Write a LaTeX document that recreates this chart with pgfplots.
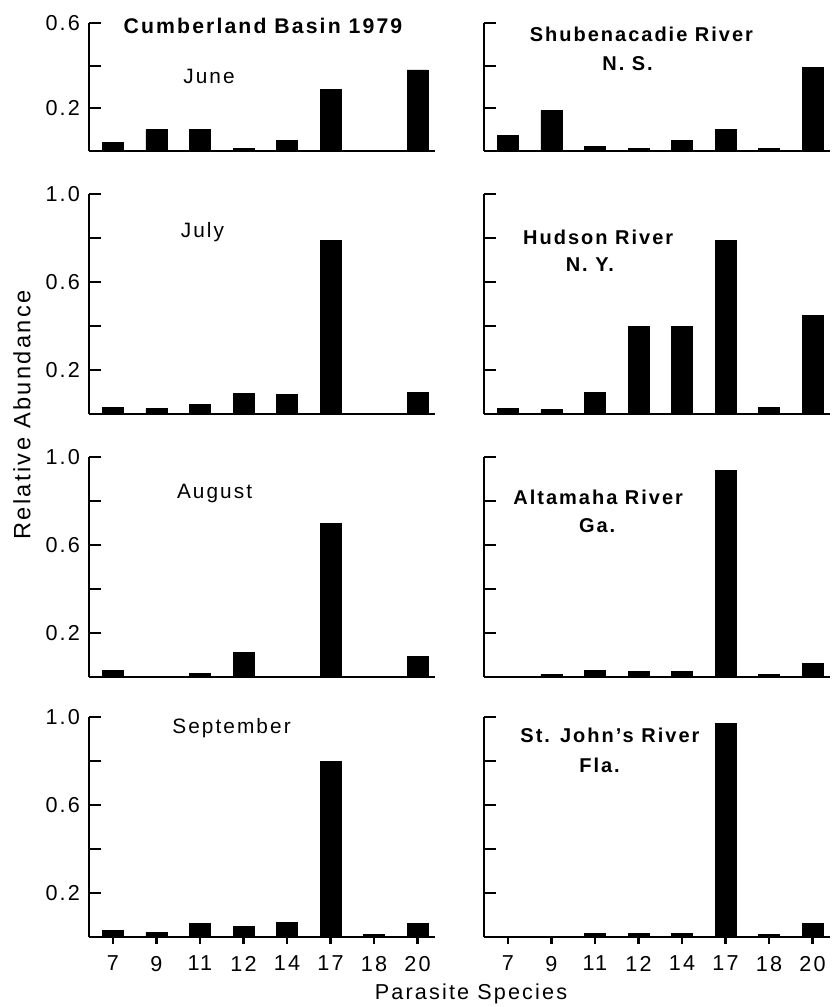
\documentclass[border=0pt]{standalone}
\usepackage{fontspec}
\setmainfont{Liberation Sans}[LetterSpace=10]
\usepackage{pgfplots}
\pgfplotsset{compat=1.18}
\newcommand\tickf{\fontsize{10.8}{12}\selectfont}
\newcommand\titf{\fontsize{10}{11}\selectfont\bfseries}
\newcommand\monf{\fontsize{10.4}{11}\selectfont}
\pgfplotsset{
  panel/.style={
    scale only axis, width=173pt, height=110pt,
    anchor=south west, clip=false,
    axis x line=bottom, axis y line=left,
    axis line style={line width=1.1pt,-},
    every tick/.style={line width=1.1pt, black},
    xmin=-0.55, xmax=7.4, ymin=0, ymax=1,
    ytick={0.2,0.4,0.6,0.8,1.0},
    yticklabels={0.2,,0.6,,1.0},
    ytick align=inside, xtick align=outside,
    major tick length=6pt,
    xtick=\empty,
    ybar, bar width=10.5pt,
    /pgf/number format/assume math mode=true,
    tick label style={font=\tickf},
    yticklabel style={xshift=-1pt},
  },
  toprow/.style={height=64pt, ymax=0.6, ytick={0.2,0.4,0.6}, yticklabels={0.2,,0.6}},
  rightcol/.style={yticklabels={}},
  bottomrow/.style={xtick={0,...,7}, xticklabels={7,9,11,12,14,17,18,20},
    xtick style={/pgfplots/major tick length=3.5pt}},
  bars/.style={fill=black, draw=black},
}
\begin{document}
\begin{tikzpicture}
\useasboundingbox (0,0) rectangle (417.5pt,-503.5pt);
% Row 1
\begin{axis}[panel, toprow, at={(44.5pt,-75.5pt)}]
\addplot[bars] coordinates {(0,0.04) (1,0.10) (2,0.10) (3,0.012) (4,0.05) (5,0.29) (7,0.38)};
\node[anchor=west, font=\fontsize{10.6}{12}\selectfont\bfseries] at (rel axis cs:0.08,0.977) {Cumberland Basin 1979};
\node[font=\monf] at (rel axis cs:0.347,0.586) {June};
\end{axis}
\begin{axis}[panel, toprow, rightcol, at={(242pt,-75.5pt)}]
\addplot[bars] coordinates {(0,0.075) (1,0.19) (2,0.02) (3,0.012) (4,0.05) (5,0.10) (6,0.012) (7,0.39)};
\node[font=\titf] at (rel axis cs:0.455,0.91) {Shubenacadie River};
\node[font=\titf] at (rel axis cs:0.415,0.68) {N. S.};
\end{axis}
% Row 2
\begin{axis}[panel, at={(44.5pt,-207pt)}]
\addplot[bars] coordinates {(0,0.03) (1,0.025) (2,0.045) (3,0.095) (4,0.09) (5,0.79) (7,0.10)};
\node[font=\monf] at (rel axis cs:0.328,0.826) {July};
\end{axis}
\begin{axis}[panel, rightcol, at={(242pt,-207pt)}]
\addplot[bars] coordinates {(0,0.025) (1,0.02) (2,0.10) (3,0.40) (4,0.40) (5,0.79) (6,0.03) (7,0.45)};
\node[font=\titf] at (rel axis cs:0.33,0.805) {Hudson River};
\node[font=\titf] at (rel axis cs:0.306,0.68) {N. Y.};
\end{axis}
% Row 3
\begin{axis}[panel, at={(44.5pt,-338.5pt)}]
\addplot[bars] coordinates {(0,0.03) (2,0.015) (3,0.11) (5,0.70) (7,0.095)};
\node[font=\monf] at (rel axis cs:0.363,0.834) {August};
\end{axis}
\begin{axis}[panel, rightcol, at={(242pt,-338.5pt)}]
\addplot[bars] coordinates {(1,0.012) (2,0.03) (3,0.025) (4,0.025) (5,0.94) (6,0.012) (7,0.06)};
\node[font=\titf] at (rel axis cs:0.33,0.816) {Altamaha River};
\node[font=\titf] at (rel axis cs:0.327,0.686) {Ga.};
\end{axis}
% Row 4
\begin{axis}[panel, bottomrow, at={(44.5pt,-468.5pt)}]
\addplot[bars] coordinates {(0,0.03) (1,0.02) (2,0.06) (3,0.05) (4,0.065) (5,0.80) (6,0.012) (7,0.06)};
\node[font=\monf] at (rel axis cs:0.412,0.95) {September};
\end{axis}
\begin{axis}[panel, rightcol, bottomrow, at={(242pt,-468.5pt)}]
\addplot[bars] coordinates {(2,0.015) (3,0.015) (4,0.015) (5,0.97) (6,0.012) (7,0.06)};
\node[font=\titf] at (rel axis cs:0.364,0.915) {St. John's River};
\node[font=\titf] at (rel axis cs:0.334,0.778) {Fla.};
\end{axis}
\node[rotate=90, font=\fontsize{11.8}{13}\selectfont] at (11pt,-207.5pt) {Relative Abundance};
\node[font=\fontsize{10.8}{12}\selectfont] at (235.5pt,-497pt) {Parasite Species};
\end{tikzpicture}
\end{document}
